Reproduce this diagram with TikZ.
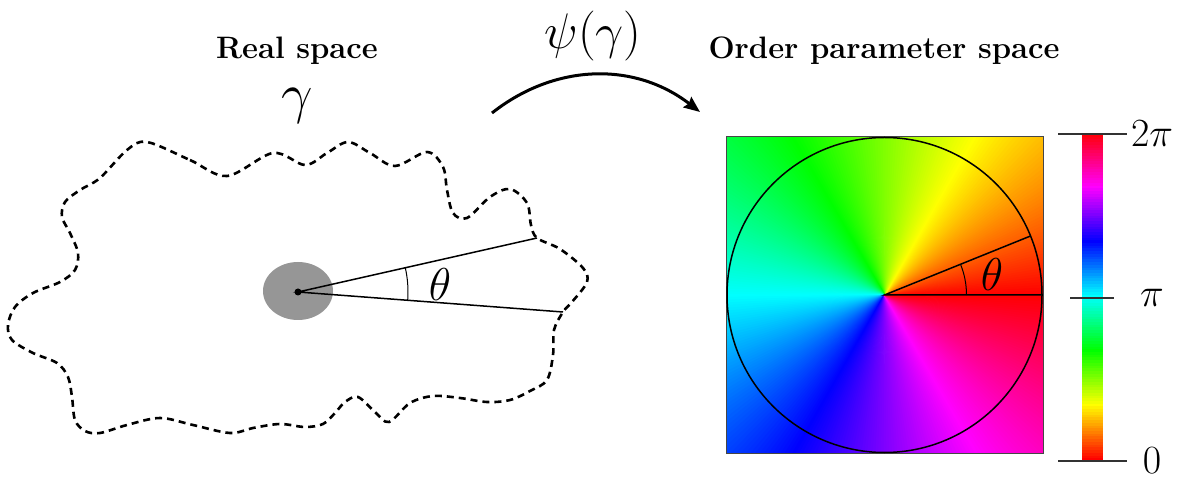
\RequirePackage{fix-cm}
\documentclass[tikz,border=0pt]{standalone}
\usepackage{xcolor}
\usepackage{tikz}
\usetikzlibrary{arrows.meta,calc}
\definecolor{clrBlob}{RGB}{150,150,150}
\definecolor{clrTick}{RGB}{50,50,50}
\definecolor{clrFrame}{RGB}{70,70,70}

\begin{document}
\begin{tikzpicture}[x=1pt,y=1pt,
  heading/.style={font=\fontsize{31}{37}\selectfont\bfseries},
  bigmath/.style={font=\fontsize{46}{52}\selectfont},
  ticklbl/.style={font=\fontsize{40}{46}\selectfont}]
  \useasboundingbox (0,0) rectangle (1183,482);
  \def\cx{884.5} \def\cy{187} \def\rw{157.5} \def\hw{158.5}

  % --- real space ---
  \node[heading] (realhd) at (297,431) {Real space};
  \node[font=\fontsize{56}{62}\selectfont] (gam) at (297,376) {$\gamma$};
  \draw[line width=2.6pt,dash pattern=on 7pt off 5pt]
    plot[smooth cycle,tension=0.55] coordinates {
      (147,340) (190,322) (227,306) (273,329) (305,317) (327,329) (348,340)
      (370,329) (395,316) (427,330) (443,315) (447,292) (453,269) (467,264)
      (490,285) (510,293) (527,279) (531,257) (537,244) (560,233) (583,214)
      (587,200) (572,180) (563,170) (554,152) (553,127) (547,102) (530,91)
      (510,82) (487,80) (460,84) (433,86) (410,79) (389,60) (375,70) (358,85)
      (345,80) (335,69) (323,58) (305,55) (280,58) (253,54) (230,49) (193,57)
      (160,64) (127,57) (100,49) (85,51) (75,62) (72,85) (68,105) (57,119)
      (33,129) (12,142) (8,157) (15,175) (33,189) (60,200) (75,212) (78,229)
      (70,249) (62,265) (65,280) (80,292) (100,304) (127,332)};
  \fill[clrBlob] (298,191) ellipse[x radius=35,y radius=29];
  \coordinate (o) at (298,190);
  \coordinate (pa) at (537,244);
  \coordinate (pb) at (563,170);
  \fill (o) circle[radius=3.5];
  \draw[line width=1.5pt] (pa) -- (o) -- (pb);
  \draw[line width=1pt] (o) ++(-4.3:110) arc[start angle=-4.3,end angle=12.7,radius=110];
  \node[bigmath] (thr) at (440,197) {$\theta$};

  % --- map ---
  \node[font=\fontsize{50}{56}\selectfont] (psi) at (593,446) {$\psi(\gamma)$};
  \coordinate (mfrom) at (492,369);
  \coordinate (mto) at (700,370);
  \draw[line width=3pt,-{Stealth[length=16pt,width=13pt,inset=2pt]}]
    (mfrom) to[bend left=38] (mto);

  % --- order parameter space ---
  \node[heading] (ophd) at (884,431) {Order parameter space};
  \begin{scope}
    \clip (\cx-\hw,\cy-\hw) rectangle (\cx+\hw,\cy+\hw);
    \foreach \a in {0,...,359}{
      \definecolor{wedge}{Hsb}{\a,1,1}
      \colorlet{wedgergb}[rgb]{wedge}
      \fill[wedgergb,draw=wedgergb,line width=0.6pt]
        (\cx,\cy) -- +(\a-0.2:240) -- +(\a+1.2:240) -- cycle;}
  \end{scope}
  \draw[clrFrame,line width=1pt] (\cx-\hw,\cy-\hw) rectangle (\cx+\hw,\cy+\hw);
  \coordinate (w) at (\cx,\cy);
  \coordinate (wa) at ($(w)+(22:\rw)$);
  \coordinate (wb) at ($(w)+(0:\rw)$);
  \draw[line width=1.5pt] (w) circle[radius=\rw];
  \draw[line width=1.5pt] (wa) -- (w) -- (wb);
  \draw[line width=1pt] (w) ++(0:82) arc[start angle=0,end angle=22,radius=82];
  \node[bigmath] (thw) at (992,207) {$\theta$};

  % --- colour bar ---
  \foreach \i in {0,...,119}{
    \pgfmathsetmacro\hh{\i*3}
    \definecolor{strip}{Hsb}{\hh,1,1}
    \fill[strip] (1082,21+\i*2.725) rectangle (1103,21+\i*2.725+2.9);}
  \foreach \ty/\tl/\tr/\nm/\lab in {21/1058/1127/zero/{$0$},
      184/1070/1114/half/{$\pi$}, 348/1058/1127/full/{$2\pi$}}{
    \coordinate (\nm l) at (\tl,\ty);
    \coordinate (\nm r) at (\tr,\ty);
    \draw[clrTick,line width=1.5pt] (\nm l) -- (\nm r);
    \node[ticklbl] (\nm) at (1152,\ty) {\lab};}
\end{tikzpicture}
\end{document}
